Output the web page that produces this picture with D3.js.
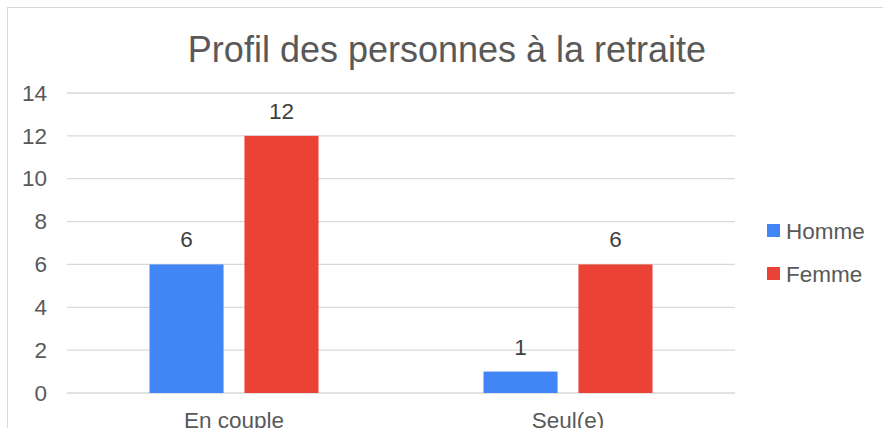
<!DOCTYPE html>
<html>
<head>
<meta charset="utf-8">
<script src="https://cdn.jsdelivr.net/npm/d3@7"></script>
<style>
  body { margin: 0; background: #fff; }
  text { font-family: "Liberation Sans", Arial, sans-serif; }
</style>
</head>
<body>
<div id="chart"></div>
<script>
// data
const categories = ["En couple", "Seul(e)"];
const seriesNames = ["Homme", "Femme"];
const homme = [6, 1];
const femme = [12, 6];
const yTicks = [0, 2, 4, 6, 8, 10, 12, 14];
const colors = ["#4285F4", "#EA4335"];

const W = 883, H = 428;
const margin = {top: 93, right: 148, bottom: 35, left: 67};
const width = W - margin.left - margin.right;
const height = H - margin.top - margin.bottom;

const svg = d3.select("#chart").append("svg")
    .attr("width", W)
    .attr("height", H);

// chart frame (only top and left visible)
svg.append("rect")
    .attr("x", 7.5).attr("y", 7.5)
    .attr("width", 900).attr("height", 450)
    .attr("fill", "none")
    .attr("stroke", "#d9d9d9");

const g = svg.append("g")
    .attr("transform", `translate(${margin.left},${margin.top})`);

const x0 = d3.scaleBand().domain(categories).range([0, width]);
const x1 = d3.scaleBand().domain(seriesNames).range([0, 169]).paddingInner(0.22);
const y = d3.scaleLinear().domain([0, 14]).range([height, 0]);

// gridlines
g.append("g")
    .selectAll("line")
    .data(yTicks)
    .enter().append("line")
    .attr("x1", 0).attr("x2", width)
    .attr("y1", d => y(d)).attr("y2", d => y(d))
    .attr("stroke", "#d9d9d9")
    .attr("stroke-width", 1.3);

// y axis labels
const yAxis = d3.axisLeft(y).tickValues(yTicks).tickSize(0).tickPadding(20);
const ya = g.append("g").call(yAxis);
ya.select(".domain").remove();
ya.selectAll("text")
    .style("font-size", "22.5px")
    .attr("fill", "#595959")
    .attr("font-family", "'Liberation Sans', Arial, sans-serif");

// x axis labels
const xAxis = d3.axisBottom(x0).tickSize(0).tickPadding(19);
const xa = g.append("g").attr("transform", `translate(0,${height})`).call(xAxis);
xa.select(".domain").remove();
xa.selectAll("text")
    .style("font-size", "22.5px")
    .attr("fill", "#595959")
    .attr("font-family", "'Liberation Sans', Arial, sans-serif");

const rows = categories.map((c, i) => ({cat: c, vals: [homme[i], femme[i]]}));

const groups = g.selectAll(".grp")
    .data(rows)
    .enter().append("g")
    .attr("transform", d => `translate(${x0(d.cat) + (x0.bandwidth() - 169) / 2},0)`);

groups.selectAll("rect")
    .data(d => d.vals.map((v, j) => ({name: seriesNames[j], v: v, j: j})))
    .enter().append("rect")
    .attr("x", d => x1(d.name))
    .attr("width", x1.bandwidth())
    .attr("y", d => y(d.v))
    .attr("height", d => y(0) - y(d.v))
    .attr("fill", d => colors[d.j]);

groups.selectAll(".lbl")
    .data(d => d.vals.map((v, j) => ({name: seriesNames[j], v: v})))
    .enter().append("text")
    .attr("x", d => x1(d.name) + x1.bandwidth() / 2)
    .attr("y", d => y(d.v) - 17)
    .attr("text-anchor", "middle")
    .style("font-size", "22.5px")
    .attr("fill", "#404040")
    .text(d => d.v);

// title
svg.append("text")
    .attr("x", 447)
    .attr("y", 62)
    .attr("text-anchor", "middle")
    .style("font-size", "36px")
    .attr("fill", "#595959")
    .text("Profil des personnes à la retraite");

// legend
const legend = svg.append("g").attr("transform", "translate(767,224)");
seriesNames.forEach((s, i) => {
    legend.append("rect")
        .attr("x", 0).attr("y", i * 43)
        .attr("width", 13).attr("height", 13)
        .attr("fill", colors[i]);
    legend.append("text")
        .attr("x", 19).attr("y", i * 43 + 14.5)
        .style("font-size", "22.5px")
        .attr("fill", "#595959")
        .text(s);
});
</script>
</body>
</html>
